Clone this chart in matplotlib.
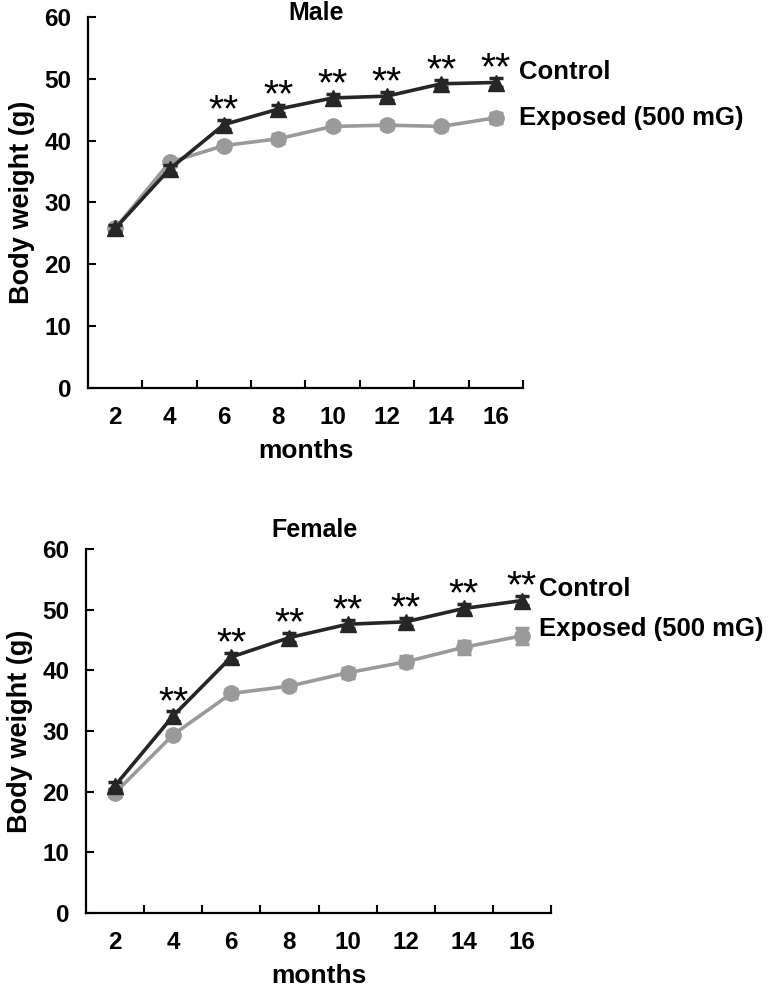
import numpy as np
import matplotlib
matplotlib.use("Agg")
import matplotlib.pyplot as plt
from matplotlib.ticker import FixedLocator

plt.rcParams['font.family'] = ['Liberation Sans', 'DejaVu Sans']

# data
months = ['2', '4', '6', '8', '10', '12', '14', '16']

male_control = [25.8, 35.4, 42.6, 45.1, 46.9, 47.2, 49.2, 49.4]
male_control_err = [0.5, 0.6, 0.7, 0.6, 0.6, 0.6, 0.6, 0.7]
male_exposed = [25.8, 36.5, 39.2, 40.3, 42.3, 42.5, 42.3, 43.7]
male_exposed_err = [0.5, 0.6, 0.6, 0.7, 0.6, 0.6, 0.6, 0.8]
male_sig = [False, False, True, True, True, True, True, True]

female_control = [21.0, 32.5, 42.2, 45.4, 47.6, 48.0, 50.2, 51.5]
female_control_err = [0.6, 0.8, 0.7, 0.7, 0.7, 0.7, 0.7, 0.8]
female_exposed = [19.8, 29.4, 36.2, 37.4, 39.6, 41.4, 43.8, 45.7]
female_exposed_err = [0.5, 0.6, 0.8, 0.7, 0.8, 0.9, 1.1, 1.3]
female_sig = [False, True, True, True, True, True, True, True]

yticks = [0, 10, 20, 30, 40, 50, 60]

DARK = '#262626'
GREY = '#9a9a9a'


def panel(ax, title, title_pos, control, control_err, exposed, exposed_err,
          sig):
    x = np.arange(len(months))
    ax.errorbar(x, exposed, yerr=exposed_err, color=GREY, lw=2.6,
                marker='o', ms=11, capsize=5, capthick=2.5, elinewidth=2.5,
                zorder=2)
    ax.errorbar(x, control, yerr=control_err, color=DARK, lw=2.6,
                marker='^', ms=12, capsize=5, capthick=2.5, elinewidth=2.5,
                zorder=3)
    for i, s in enumerate(sig):
        if s:
            ax.annotate('**', (x[i], control[i]), xytext=(0, 2),
                        textcoords='offset points', ha='center',
                        va='baseline', fontsize=28)

    ax.set_xlim(-0.5, len(months) - 0.5)
    ax.set_ylim(0, 60)
    ax.set_yticks(yticks)
    ax.set_xticks(x)
    ax.set_xticklabels(months)
    ax.xaxis.set_minor_locator(FixedLocator(x + 0.5))
    ax.tick_params(axis='x', which='major', length=0, pad=13,
                   labelsize=17.5)
    ax.tick_params(axis='x', which='minor', length=6, width=1.5,
                   direction='in')
    ax.tick_params(axis='y', length=6, width=1.5, direction='in',
                   labelsize=17.5, pad=12)
    for lab in ax.get_xticklabels() + ax.get_yticklabels():
        lab.set_fontweight('bold')
    for side in ('top', 'right'):
        ax.spines[side].set_visible(False)
    for side in ('left', 'bottom'):
        ax.spines[side].set_linewidth(1.6)

    ax.text(title_pos[0], title_pos[1], title, transform=ax.transAxes,
            fontsize=18, fontweight='bold', ha='center', va='center',
            clip_on=False)
    ax.set_xlabel('months', fontsize=19, fontweight='bold', labelpad=7)
    ax.set_ylabel('Body weight (g)', fontsize=19.5, fontweight='bold',
                  labelpad=7)


fig = plt.figure(figsize=(7.74, 9.86), dpi=100)
ax1 = fig.add_axes([0.1137, 0.6065, 0.562, 0.3763])
ax2 = fig.add_axes([0.1111, 0.0740, 0.6008, 0.3692])

panel(ax1, 'Male', (0.524, 1.011), male_control, male_control_err,
      male_exposed, male_exposed_err, male_sig)
panel(ax2, 'Female', (0.492, 1.052), female_control, female_control_err,
      female_exposed, female_exposed_err, female_sig)

label_kw = dict(fontsize=18.5, fontweight='bold', va='center', ha='left',
                clip_on=False)
ax1.text(0.99, 0.852, 'Control', transform=ax1.transAxes, **label_kw)
ax1.text(0.99, 0.727, 'Exposed (500 mG)', transform=ax1.transAxes,
         **label_kw)
ax2.text(0.975, 0.890, 'Control', transform=ax2.transAxes, **label_kw)
ax2.text(0.975, 0.780, 'Exposed (500 mG)', transform=ax2.transAxes,
         **label_kw)

fig.savefig('out.png', dpi=100)
